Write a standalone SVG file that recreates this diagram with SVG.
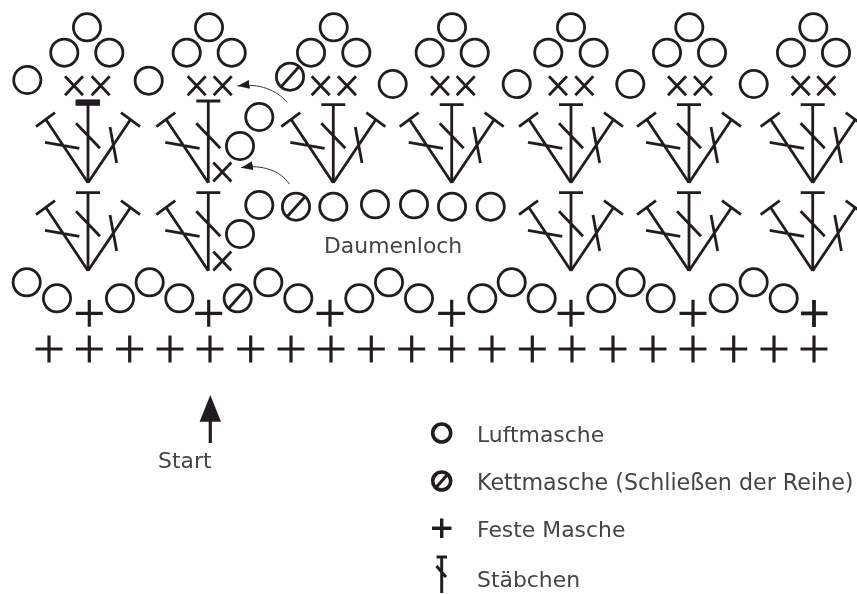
<svg xmlns="http://www.w3.org/2000/svg" width="857" height="594" viewBox="0 0 857 594">
<style>
.s{fill:none;stroke:#231f20;stroke-width:2.8}
.p{fill:none;stroke:#231f20;stroke-width:3.2}
.t{font-family:"DejaVu Sans",Verdana,sans-serif;font-size:21.9px;fill:#444}
.w{font-size:22.2px}
.a{fill:none;stroke:#333;stroke-width:1}
</style>
<defs>
<filter id="soft" x="0" y="0" width="100%" height="100%" filterUnits="userSpaceOnUse"><feGaussianBlur stdDeviation="0.35"/></filter>
<g id="o"><circle class="s" r="13.6"/></g>
<g id="k"><circle class="s" r="13.6"/><path class="s" d="M-8.5 9.5L8.500-9.500"/></g>
<g id="x"><path class="s" d="M-9-9.500L9 9.500M-9 9.500L9-9.500"/></g>
<g id="f"><path class="p" d="M-13.500 0H13.500M0-13.500V13.500"/></g>
<g id="L"><path class="s" d="M0 0L-42.300-63.400M-52-56L-33-70M-43-40.400L-8.700-34.400"/></g>
<g id="R"><path class="s" d="M0 0L42.700-63.400M33-70L52-56M22-55.700L28.700-19.700"/></g>
<g id="M"><path class="s" d="M0 0V-78M-12-78H12M-12-59.400L12-34.400"/></g>
<g id="T"><path class="s" d="M0 0V-81.700M-12-81.700H12M-12-59.400L12-34.400"/></g>
<marker id="ah" markerUnits="userSpaceOnUse" markerWidth="13" markerHeight="10" refX="12" refY="4.500" orient="auto"><path d="M0 0L12 4.500L0 9Z" fill="#231f20"/></marker>
</defs>
<g filter="url(#soft)">
<g id="connectors">
<path class="a" marker-end="url(#ah)" d="M287.300 102.300C276 90 260 83 237.500 86"/>
<path class="a" marker-end="url(#ah)" d="M289.300 184C281 171 262 164 241 167.700"/>
<path d="M210.300 443V420" fill="none" stroke="#231f20" stroke-width="3.200"/>
<path d="M210.300 395L221 421.700H199.600Z" fill="#231f20"/>
</g>
<g id="shell-1"><use href="#o" x="87" y="27.300"/><use href="#o" x="64.300" y="52.700"/><use href="#o" x="109.300" y="52.700"/><use href="#x" x="74" y="85.700"/><use href="#x" x="100.700" y="85.700"/></g>
<g id="shell-2"><use href="#o" x="209" y="27.300"/><use href="#o" x="186.700" y="52.700"/><use href="#o" x="231.700" y="52.700"/><use href="#x" x="196.700" y="85.700"/><use href="#x" x="222.700" y="85.700"/></g>
<g id="shell-3"><use href="#o" x="333.700" y="27.300"/><use href="#o" x="311" y="52.700"/><use href="#o" x="356.300" y="52.700"/><use href="#x" x="320.700" y="85.700"/><use href="#x" x="347" y="85.700"/></g>
<g id="shell-4"><use href="#o" x="452" y="27.300"/><use href="#o" x="429.700" y="52.700"/><use href="#o" x="474.700" y="52.700"/><use href="#x" x="440" y="85.700"/><use href="#x" x="465.700" y="85.700"/></g>
<g id="shell-5"><use href="#o" x="571" y="27.300"/><use href="#o" x="548.300" y="52.700"/><use href="#o" x="593.700" y="52.700"/><use href="#x" x="558" y="85.700"/><use href="#x" x="584.300" y="85.700"/></g>
<g id="shell-6"><use href="#o" x="689.300" y="27.300"/><use href="#o" x="667" y="52.700"/><use href="#o" x="712" y="52.700"/><use href="#x" x="677" y="85.700"/><use href="#x" x="703" y="85.700"/></g>
<g id="shell-7"><use href="#o" x="813.300" y="27.300"/><use href="#o" x="791" y="52.700"/><use href="#o" x="836" y="52.700"/><use href="#x" x="800.700" y="85.700"/><use href="#x" x="826.300" y="85.700"/></g>
<g id="chain-top"><use href="#o" x="27.300" y="80"/><use href="#o" x="148.700" y="80.700"/><use href="#k" x="290" y="76.700"/><use href="#o" x="392.700" y="84"/><use href="#o" x="516.700" y="84"/><use href="#o" x="630.300" y="84"/><use href="#o" x="753.700" y="84"/></g>
<g id="fan-t1"><use href="#L" x="88" y="182.700"/><use href="#R" x="88" y="182.700"/><use href="#T" x="88" y="182.700"/><path d="M75.500 102.800H100" fill="none" stroke="#231f20" stroke-width="6"/></g>
<g id="fan-t2"><use href="#L" x="208.300" y="182.700"/><use href="#T" x="208.300" y="182.700"/></g>
<g id="fan-t3"><use href="#L" x="333.300" y="182.700"/><use href="#R" x="333.300" y="182.700"/><use href="#M" x="333.300" y="182.700"/></g>
<g id="fan-t4"><use href="#L" x="451.700" y="182.700"/><use href="#R" x="451.700" y="182.700"/><use href="#M" x="451.700" y="182.700"/></g>
<g id="fan-t5"><use href="#L" x="571" y="182.700"/><use href="#R" x="571" y="182.700"/><use href="#M" x="571" y="182.700"/></g>
<g id="fan-t6"><use href="#L" x="689" y="182.700"/><use href="#R" x="689" y="182.700"/><use href="#M" x="689" y="182.700"/></g>
<g id="fan-t7"><use href="#L" x="812.700" y="182.700"/><use href="#R" x="812.700" y="182.700"/><use href="#M" x="812.700" y="182.700"/></g>
<g id="fan-b1"><use href="#L" x="88" y="270.700"/><use href="#R" x="88" y="270.700"/><use href="#M" x="88" y="270.700"/></g>
<g id="fan-b2"><use href="#L" x="208.300" y="270.700"/><use href="#M" x="208.300" y="270.700"/></g>
<g id="fan-b5"><use href="#L" x="571" y="270.700"/><use href="#R" x="571" y="270.700"/><use href="#M" x="571" y="270.700"/></g>
<g id="fan-b6"><use href="#L" x="689" y="270.700"/><use href="#R" x="689" y="270.700"/><use href="#M" x="689" y="270.700"/></g>
<g id="fan-b7"><use href="#L" x="812.700" y="270.700"/><use href="#R" x="812.700" y="270.700"/><use href="#M" x="812.700" y="270.700"/></g>
<g id="turn-upper"><use href="#o" x="259.300" y="117"/><use href="#o" x="240" y="146"/><use href="#x" x="222.300" y="172"/></g>
<g id="turn-lower"><use href="#o" x="259.300" y="205"/><use href="#o" x="240" y="234"/><use href="#x" x="222.300" y="261"/></g>
<g id="thumbhole-chain"><use href="#k" x="296" y="206.700"/><use href="#o" x="333.300" y="206.700"/><use href="#o" x="375" y="204.300"/><use href="#o" x="414" y="204.300"/><use href="#o" x="452" y="206.700"/><use href="#o" x="490.700" y="206.700"/></g>
<g id="chain-row"><use href="#o" x="26.700" y="282.300"/><use href="#o" x="57" y="298.300"/><use href="#o" x="120" y="298.300"/><use href="#o" x="149.700" y="282.300"/><use href="#o" x="179.300" y="298.300"/><use href="#k" x="237.700" y="298.300"/><use href="#o" x="268.300" y="282.300"/><use href="#o" x="298.300" y="298.300"/><use href="#o" x="359.300" y="298.300"/><use href="#o" x="389" y="282.300"/><use href="#o" x="419" y="298.300"/><use href="#o" x="482.300" y="298.300"/><use href="#o" x="511.700" y="282.300"/><use href="#o" x="541.700" y="298.300"/><use href="#o" x="601.300" y="298.300"/><use href="#o" x="630.700" y="282.300"/><use href="#o" x="660.700" y="298.300"/><use href="#o" x="723.700" y="298.300"/><use href="#o" x="753.700" y="282.300"/><use href="#o" x="783.700" y="298.300"/></g>
<g id="sc-upper"><use href="#f" x="89.300" y="313.300"/><use href="#f" x="208.700" y="313.300"/><use href="#f" x="330" y="313.300"/><use href="#f" x="451.700" y="313.300"/><use href="#f" x="571" y="313.300"/><use href="#f" x="693" y="313.300"/><path d="M801 313.300H827.500M814 300V327" fill="none" stroke="#231f20" stroke-width="3.800"/></g>
<g id="sc-base"><use href="#f" x="49" y="349"/><use href="#f" x="89.300" y="349"/><use href="#f" x="129.700" y="349"/><use href="#f" x="170" y="349"/><use href="#f" x="210" y="349"/><use href="#f" x="250.700" y="349"/><use href="#f" x="291" y="349"/><use href="#f" x="331" y="349"/><use href="#f" x="371.300" y="349"/><use href="#f" x="411.700" y="349"/><use href="#f" x="451.700" y="349"/><use href="#f" x="492" y="349"/><use href="#f" x="532.300" y="349"/><use href="#f" x="572" y="349"/><use href="#f" x="613" y="349"/><use href="#f" x="653" y="349"/><use href="#f" x="693" y="349"/><use href="#f" x="733.700" y="349"/><use href="#f" x="774" y="349"/><use href="#f" x="814" y="349"/></g>
<g id="label-thumbhole"><text class="t" x="324" y="252.500">Daumenloch</text></g>
<g id="label-start"><text class="t" x="158" y="468">Start</text></g>
<g id="legend-chain"><circle cx="441.700" cy="433" r="9" fill="none" stroke="#231f20" stroke-width="3.600"/><text class="t" x="477" y="441.500">Luftmasche</text></g>
<g id="legend-slip"><circle cx="441.700" cy="481" r="9" fill="none" stroke="#231f20" stroke-width="3.600"/><path d="M436 487.500L447.500 474.500" fill="none" stroke="#231f20" stroke-width="3"/><text class="t w" x="477" y="490">Kettmasche (Schließen der Reihe)</text></g>
<g id="legend-sc"><path d="M432 528.300H451.500M441.700 518.500V538" fill="none" stroke="#231f20" stroke-width="3.400"/><text class="t" x="477" y="537">Feste Masche</text></g>
<g id="legend-dc"><path d="M441.700 557V593M436.500 557H447M436.500 566L446 577" fill="none" stroke="#231f20" stroke-width="3"/><text class="t" x="477" y="586.500">Stäbchen</text></g>
</g>
</svg>
